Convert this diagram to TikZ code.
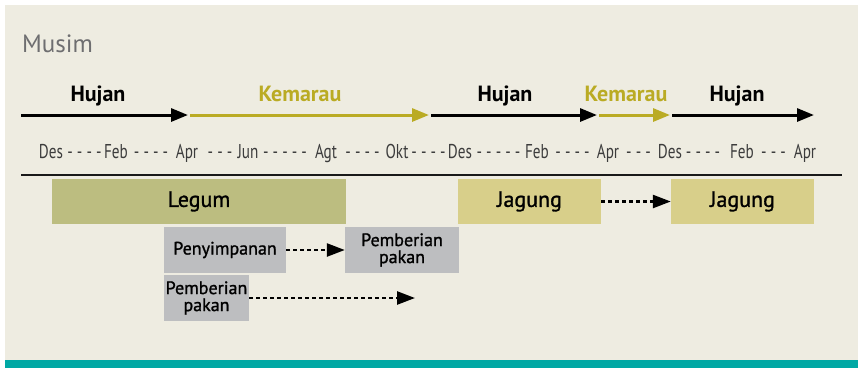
\documentclass[tikz,border=0pt]{standalone}
\usepackage{fontspec}
\setmainfont{PT Sans}
\newfontfamily\condfont[FakeStretch=0.76]{PT Sans}
\newfontfamily\medfont[FakeBold=1.2]{PT Sans}
\usetikzlibrary{arrows.meta}
\definecolor{bgcream}{RGB}{238,236,225}
\definecolor{teal}{RGB}{0,168,164}
\definecolor{olive}{RGB}{186,171,36}
\definecolor{legumc}{RGB}{188,189,128}
\definecolor{jagungc}{RGB}{216,207,138}
\definecolor{grayc}{RGB}{189,190,192}
\definecolor{musimc}{RGB}{110,110,112}
\definecolor{monthc}{RGB}{60,60,60}
\tikzset{
  x=1pt, y=-1pt,
  season/.style={line width=3pt, -{Triangle[length=17pt,width=13pt]}},
  seasonlbl/.style={anchor=base, inner sep=0pt, font=\bfseries\fontsize{22}{22}\selectfont},
  monthlbl/.style={anchor=base, inner sep=0pt, text=monthc, font=\condfont\fontsize{20}{20}\selectfont},
  cropbox/.style={minimum height=45pt, inner sep=0pt, text=black, font=\medfont\fontsize{22}{22}\selectfont},
  usebox/.style={fill=grayc, minimum height=46pt, inner sep=0pt, text=black, align=center, font=\medfont\fontsize{18}{17}\selectfont},
  dotarrow/.style={line width=2.5pt, dash pattern=on 4pt off 3pt, -{Triangle[length=18pt,width=13pt]}}
}
\begin{document}
\begin{tikzpicture}
\useasboundingbox (0,0) rectangle (858,368);
\fill[white] (0,0) rectangle (858,368);
\fill[bgcream] (5,5) rectangle (858,360);
\fill[teal] (5,360) rectangle (858,368);

\node[anchor=base west, inner sep=0pt, text=musimc, font=\fontsize{25}{25}\selectfont] (musim) at (22,52) {Musim};

% season arrows
\coordinate (a0) at (21,115);
\coordinate (a1) at (188,115);
\coordinate (a1b) at (190,115);
\coordinate (a2) at (429,115);
\coordinate (a2b) at (431,115);
\coordinate (a3) at (597,115);
\coordinate (a3b) at (599,115);
\coordinate (a4) at (670,115);
\coordinate (a4b) at (672,115);
\coordinate (a5) at (814,115);
\draw[season, black] (a0) -- (a1);
\draw[season, olive] (a1b) -- (a2);
\draw[season, black] (a2b) -- (a3);
\draw[season, olive] (a3b) -- (a4);
\draw[season, black] (a4b) -- (a5);

\node[seasonlbl] (s1) at (98,101) {Hujan};
\node[seasonlbl, text=olive] (s2) at (300,101) {Kemarau};
\node[seasonlbl] (s3) at (505,101) {Hujan};
\node[seasonlbl, text=olive] (s4) at (626,101) {Kemarau};
\node[seasonlbl] (s5) at (737,101) {Hujan};

% months
\foreach \x/\m [count=\i] in {51/Des,116/Feb,187/Apr,248/Jun,326/Agt,397/Okt,460/Des,537/Feb,608/Apr,670/Des,742/Feb,805/Apr}
  \node[monthlbl] (m\i) at (\x,158) {\m};
\foreach \x/\d [count=\i] in {84.5/{- - - -},151/{- - - -},220/{- - -},285/{- - - - -},362.5/{- - - -},428.5/{- - - -},498.5/{- - - - -},572.5/{- - - -},638.5/{- - -},703/{- - - -},773.5/{- - -}}
  \node[monthlbl] (d\i) at (\x,158) {\d};

\coordinate (l0) at (21,175);
\coordinate (l1) at (842,175);
\draw[line width=2.8pt, black!90] (l0) -- (l1);

% crops
\node[cropbox, fill=legumc, minimum width=294pt] (legum) at (199,201.5) {Legum};
\node[cropbox, fill=jagungc, minimum width=143pt] (jag1) at (529.5,201.5) {Jagung};
\node[cropbox, fill=jagungc, minimum width=143pt] (jag2) at (742.5,201.5) {Jagung};
\draw[dotarrow] (jag1.east) -- (jag2.west);

% uses
\node[usebox, minimum width=122pt] (peny) at (225,250) {Penyimpanan};
\node[usebox, minimum width=114pt] (pak1) at (402,250) {Pemberian\\pakan};
\node[usebox, minimum width=85pt] (pak2) at (206.5,298) {Pemberian\\pakan};
\coordinate (pend) at (415,298);
\draw[dotarrow] (peny.east) -- (pak1.west);
\draw[dotarrow] (pak2.east) -- (pend);
\end{tikzpicture}
\end{document}
